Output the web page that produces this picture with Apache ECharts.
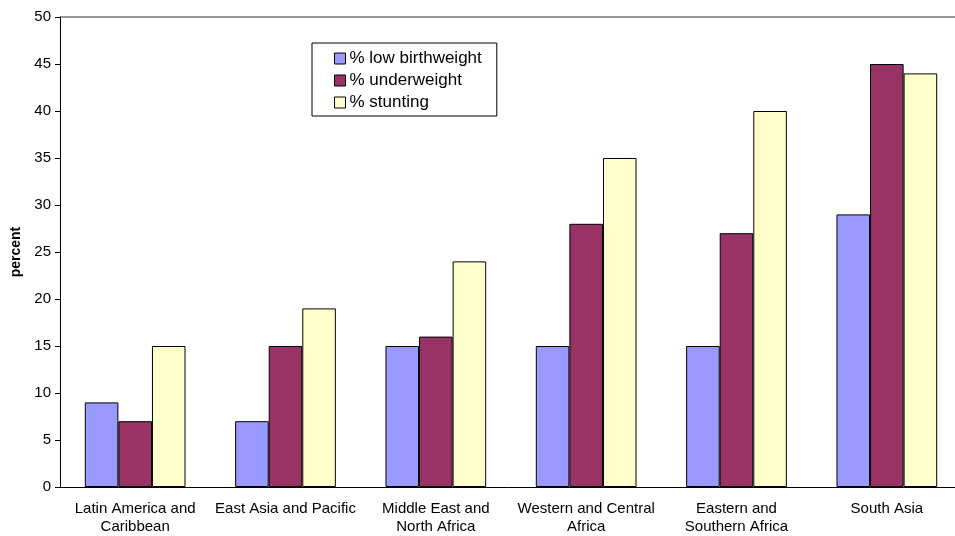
<!DOCTYPE html>
<html>
<head>
<meta charset="utf-8">
<title>percent by region</title>
<script src="https://cdn.jsdelivr.net/npm/echarts@6/dist/echarts.min.js"></script>
<style>
    html, body { margin: 0; padding: 0; background: #fff; }
    #chart { width: 955px; height: 536px; }
</style>
</head>
<body>
<div id="chart"></div>
<script>
    // data
    var regions = ['Latin America and\nCaribbean', 'East Asia and Pacific', 'Middle East and\nNorth Africa',
        'Western and Central\nAfrica', 'Eastern and\nSouthern Africa', 'South Asia'];
    var lowBirthweight = [9, 7, 15, 15, 15, 29];
    var underweight = [7, 15, 16, 28, 27, 45];
    var stunting = [15, 19, 24, 35, 40, 44];

    var font = 'Liberation Sans, Arial, sans-serif';
    let myChart = echarts.init(document.getElementById('chart'));

    // only the top border line of the plot area is drawn
    let splitColors = [];
    for (let i = 0; i < 10; i++) splitColors.push('rgba(0,0,0,0)');
    splitColors.push('#999');

    function bar(name, data, color) {
        return {
            name: name,
            type: 'bar',
            data: data,
            barGap: '0%',
            barCategoryGap: '33%',
            itemStyle: { color: color, borderColor: '#000', borderWidth: 1 }
        };
    }

    let option = {
        animation: false,
        textStyle: { fontFamily: font },
        grid: { left: 60, right: -7, top: 17, bottom: 49, outerBoundsMode: 'none', containLabel: false },
        legend: {
            orient: 'vertical',
            left: 312,
            top: 43,
            padding: [7, 15, 5, 22],
            itemGap: 5,
            itemWidth: 11,
            itemHeight: 11,
            icon: 'rect',
            borderColor: '#000',
            borderWidth: 1,
            textStyle: { fontSize: 17, color: '#000', fontFamily: font, padding: [0, 0, 0, -1] },
            itemStyle: { borderColor: '#000', borderWidth: 1 },
            data: ['% low birthweight', '% underweight', '% stunting']
        },
        xAxis: {
            type: 'category',
            data: regions,
            axisLine: { lineStyle: { color: '#000', width: 1 } },
            axisTick: { length: 5, lineStyle: { color: '#000' } },
            axisLabel: { color: '#000', fontSize: 15, lineHeight: 18, margin: 13, interval: 0, fontFamily: font }
        },
        yAxis: {
            type: 'value',
            min: 0,
            max: 50,
            interval: 5,
            name: 'percent',
            nameLocation: 'middle',
            nameGap: 35,
            nameTextStyle: { fontSize: 14, fontWeight: 'bold', color: '#000', fontFamily: font },
            axisLine: { show: true, lineStyle: { color: '#000', width: 1 } },
            axisTick: { show: true, length: 5, lineStyle: { color: '#000' } },
            axisLabel: { color: '#000', fontSize: 15, margin: 9, fontFamily: font },
            splitLine: { show: true, lineStyle: { color: splitColors, width: 2 } }
        },
        series: [
            bar('% low birthweight', lowBirthweight, '#9999FF'),
            bar('% underweight', underweight, '#993366'),
            bar('% stunting', stunting, '#FFFFCC')
        ]
    };
    myChart.setOption(option);
</script>
</body>
</html>
